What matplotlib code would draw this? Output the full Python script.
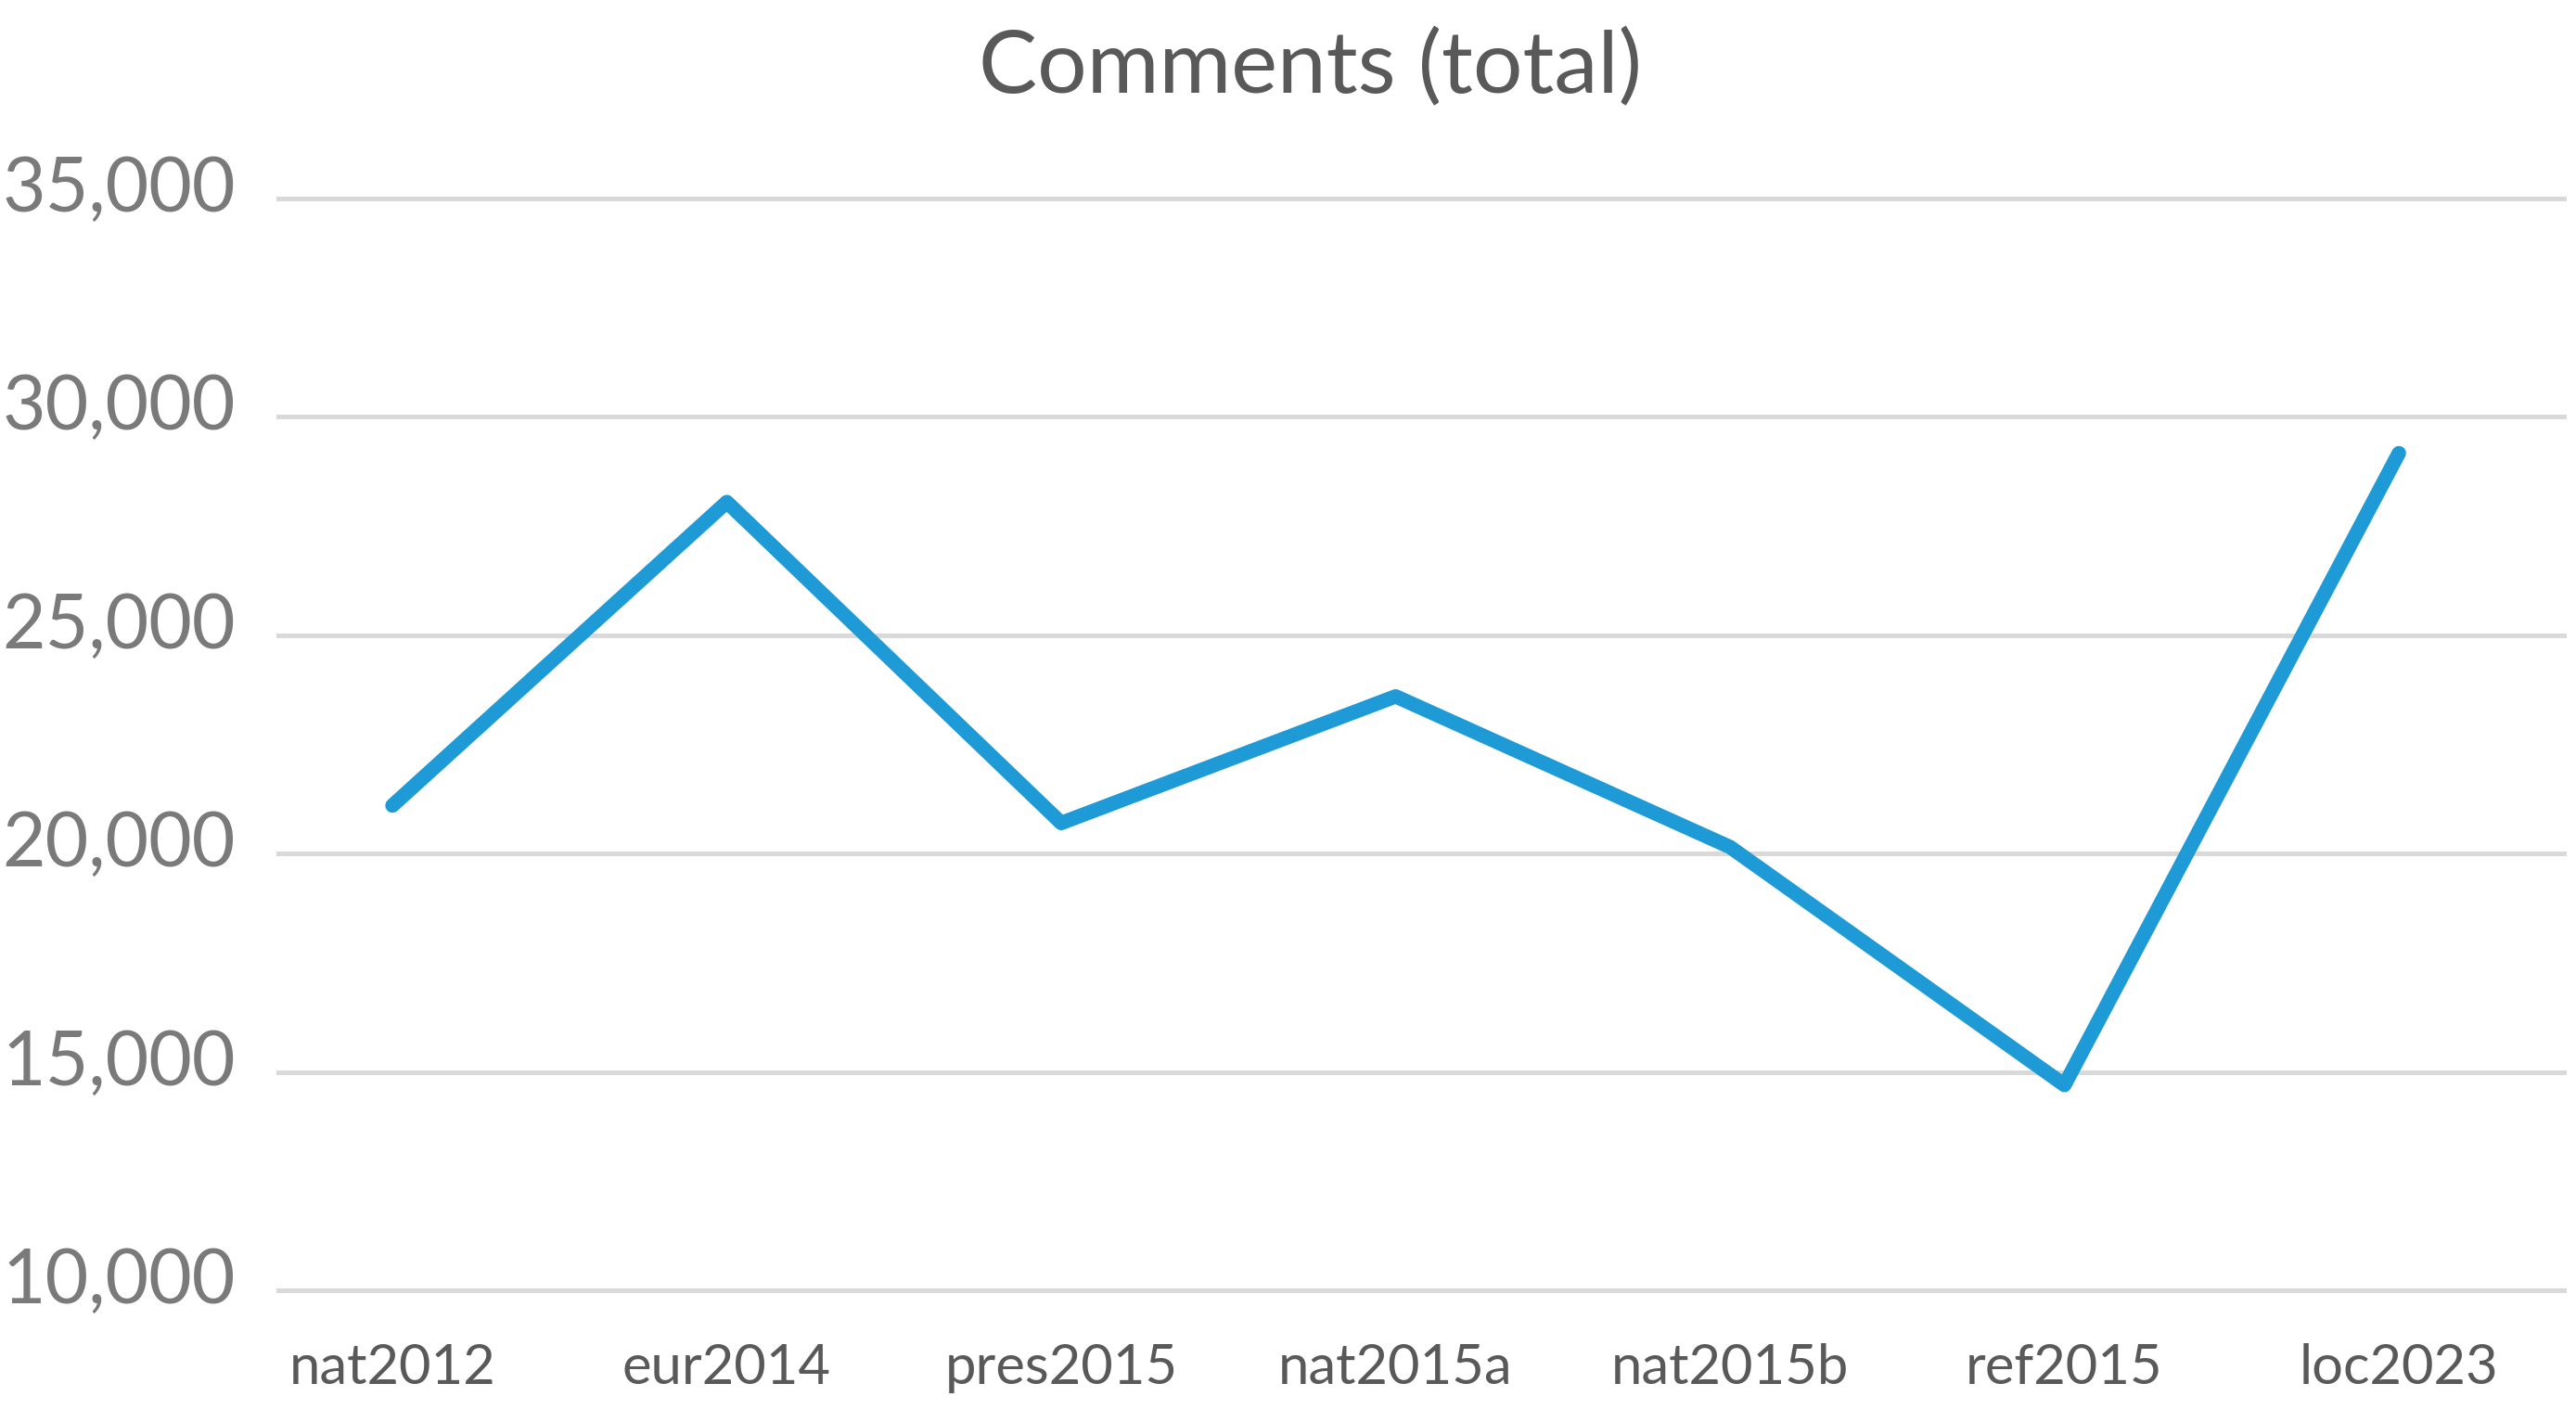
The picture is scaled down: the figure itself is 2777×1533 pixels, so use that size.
import matplotlib
matplotlib.use('Agg')
import matplotlib.pyplot as plt
from matplotlib.transforms import ScaledTranslation

# Data
elections = ['nat2012', 'eur2014', 'pres2015', 'nat2015a', 'nat2015b', 'ref2015', 'loc2023']
comments = [21100, 28050, 20700, 23600, 20150, 14700, 29170]
y_ticks = [10000, 15000, 20000, 25000, 30000, 35000]

plt.rcParams['font.family'] = ['Lato', 'DejaVu Sans']

fig = plt.figure(figsize=(13.885, 7.665), dpi=200)
ax = fig.add_axes([0.1073, 0.0865, 0.9964 - 0.1073, 0.8665 - 0.0865])

x = list(range(len(elections)))
ax.plot(x, comments, color='#1E9BD7', linewidth=5.6,
        solid_joinstyle='round', solid_capstyle='round', zorder=3)

ax.set_xlim(-0.347, 6.502)
ax.set_ylim(9800, 35200)
ax.set_yticks(y_ticks)
ax.set_yticklabels([])
ax.set_xticks(x)
ax.set_xticklabels(elections)

ax.grid(axis='y', color='#D9D9D9', linewidth=1.8, zorder=0)
ax.grid(axis='x', visible=False)
for s in ax.spines.values():
    s.set_visible(False)

ax.tick_params(axis='y', length=0)
ax.tick_params(axis='x', length=0, pad=17, labelsize=21.5, labelcolor='#595959')

# y labels sit a little above their gridlines, like the Excel original
shift = ScaledTranslation(-15.8 / 72, 5.8 / 72, fig.dpi_scale_trans)
for v in y_ticks:
    ax.text(0, v, f'{v:,}', transform=ax.get_yaxis_transform() + shift,
            ha='right', va='center_baseline', fontsize=29, color='#7A7A7A')

fig.text(0.5085, 1 - 100 / 1533, 'Comments (total)', ha='center', va='baseline',
         fontsize=34, color='#595959')

plt.savefig('out.png', dpi=200)
plt.close()
